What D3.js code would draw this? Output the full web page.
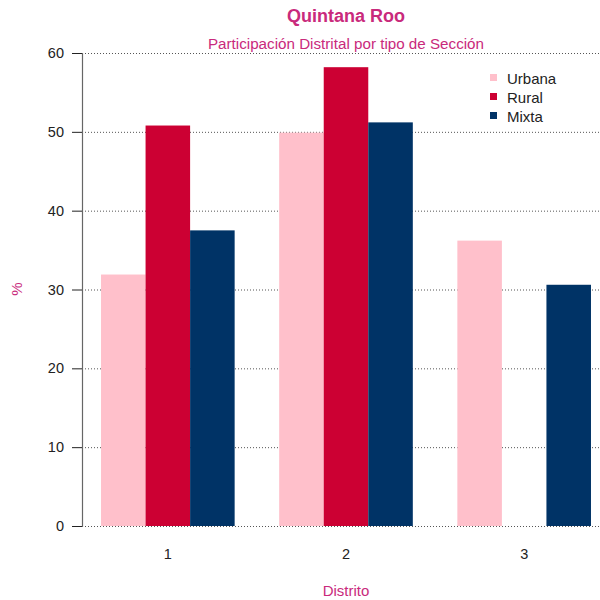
<!DOCTYPE html>
<html><head><meta charset="utf-8">
<script src="https://cdn.jsdelivr.net/npm/d3@7"></script>
<style>body{margin:0;background:#fff}svg{display:block;font-family:"Liberation Sans",Arial,sans-serif}</style>
</head><body>
<script>
const distritos = ["1","2","3"];
const tipos = ["Urbana","Rural","Mixta"];
const urbana = [31.9, 49.9, 36.2];
const rural  = [50.8, 58.2, 0];
const mixta  = [37.5, 51.2, 30.6];
const colores = ["#FFC0CB","#CC0033","#003366"];
const yTicks = [0,10,20,30,40,50,60];
const titulo = "Quintana Roo";
const subtitulo = "Participación Distrital por tipo de Sección";
const ejeX = "Distrito", ejeY = "%";

const series = [urbana, rural, mixta];
const W = 600, H = 600;
const pink = "#C92A7C";
const svg = d3.select("body").append("svg").attr("width",W).attr("height",H);

const y = d3.scaleLinear().domain([0,60]).range([526,53]);
const x0 = d3.scaleBand().domain(distritos).range([78.75,613.25]).paddingInner(0.25).paddingOuter(0.125);
const x1 = d3.scaleBand().domain(tipos).range([0,x0.bandwidth()]);

// grid
svg.append("g").selectAll("line").data(yTicks).join("line")
  .attr("x1",82).attr("x2",600).attr("y1",d=>y(d)+0.5).attr("y2",d=>y(d)+0.5)
  .attr("stroke","#555").attr("stroke-width",1).attr("stroke-dasharray","1,2");

// bars
const g = svg.append("g");
distritos.forEach((d,i)=>{
  tipos.forEach((t,j)=>{
    const v = series[j][i];
    if (v<=0) return;
    g.append("rect")
      .attr("x", x0(d)+x1(t)).attr("width", x1.bandwidth())
      .attr("y", y(v)).attr("height", y(0)-y(v))
      .attr("fill", colores[j]);
  });
});

// y axis
const ya = svg.append("g").attr("transform","translate(82,0)")
  .call(d3.axisLeft(y).tickValues(yTicks).tickSize(10).tickPadding(8));
ya.select(".domain").attr("stroke","#666").attr("stroke-width",1.2);
ya.selectAll(".tick line").attr("stroke","#222");
ya.selectAll("text").attr("font-size",14.5).attr("fill","#222").attr("font-family","Liberation Sans, Arial, sans-serif");

// x labels
svg.append("g").selectAll("text").data(distritos).join("text")
  .attr("x",d=>x0(d)+x0.bandwidth()/2).attr("y",559)
  .attr("text-anchor","middle").attr("font-size",14.5).attr("fill","#222").text(d=>d);

// titles
svg.append("text").attr("x",346).attr("y",22).attr("text-anchor","middle")
  .attr("font-size",18).attr("font-weight","bold").attr("fill",pink).text(titulo);
svg.append("text").attr("x",346).attr("y",49).attr("text-anchor","middle")
  .attr("font-size",15.2).attr("fill",pink).text(subtitulo);
svg.append("text").attr("x",346).attr("y",596).attr("text-anchor","middle")
  .attr("font-size",15).attr("fill",pink).text(ejeX);
svg.append("text").attr("transform","translate(22,289) rotate(-90)").attr("text-anchor","middle")
  .attr("font-size",15).attr("fill",pink).text(ejeY);

// legend
const lg = svg.append("g");
tipos.forEach((t,j)=>{
  lg.append("rect").attr("x",490).attr("y",74+j*19).attr("width",7).attr("height",7).attr("fill",colores[j]);
  lg.append("text").attr("x",507).attr("y",84+j*19).attr("font-size",15).attr("fill","#222").text(t);
});
</script>
</body></html>
